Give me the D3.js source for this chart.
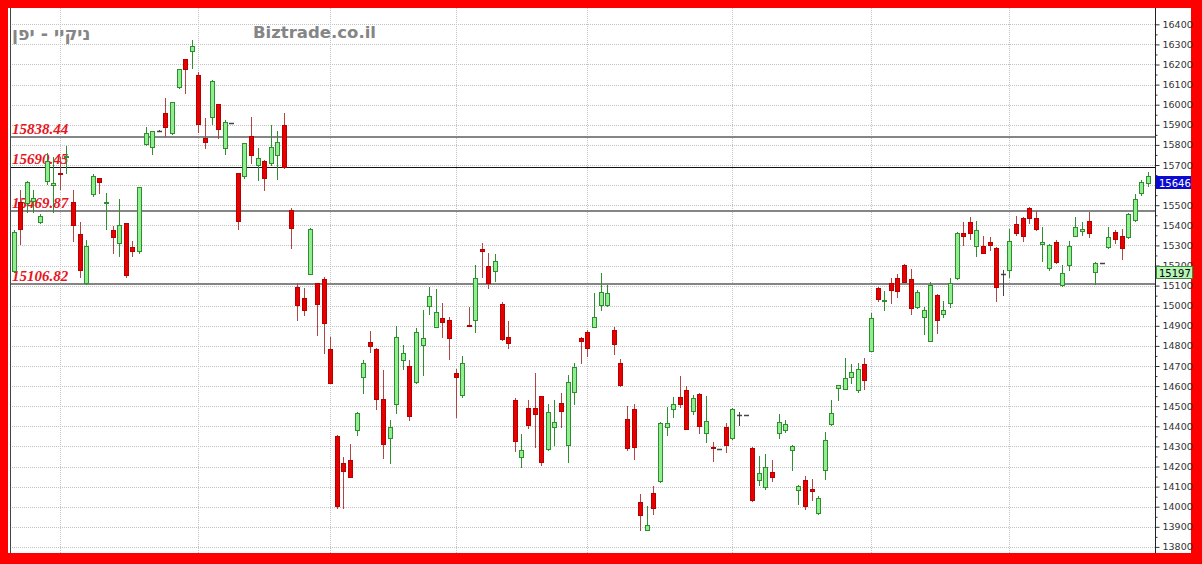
<!DOCTYPE html>
<html><head><meta charset="utf-8">
<script src="https://cdn.jsdelivr.net/npm/d3@7"></script>
<style>html,body{margin:0;padding:0;background:#fff;} svg{display:block;}</style>
</head><body>
<script>
// ---- data ----
const opens  = [15174,15517,15512,15520,15416,15621,15600,15662,15742,15517,15355,15111,15555,15633,15510,15378,15313,15409,15290,15273,
15803,15788,15870,15957,15857,16086,16227,16269,16148,15832,15937,16003,15783,15910,15658,15646,15844,15700,15721,15708,
15749,15899,15476,15094,15036,15160,15111,15131,14787,14352,14215,14231,14384,14643,14820,14787,14538,14344,14510,14729,
14699,14618,14803,14998,14895,14937,14928,14666,14555,14903,14930,15281,15197,15173,15008,14845,14530,14248,14491,14491,
14550,14289,14397,14516,14306,14571,14840,14870,14895,15003,15003,14878,14715,14434,14484,14024,13886,14068,14127,14397,
14488,14546,14583,14477,14560,14367,14296,14289,14397,14344,14455,14455,14294,14132,14098,14173,14367,14380,14281,14085,
14132,14090,13969,14185,14410,14593,14588,14643,14583,14708,14775,15086,15025,15111,15139,15202,15131,14994,14942,14825,
15053,14961,15011,15136,15360,15417,15296,15296,15318,15288,15160,15180,15404,15434,15484,15434,15305,15190,15318,15102,
15202,15348,15373,15422,15168,15213,15293,15368,15346,15340,15426,15559,15612];
const highs  = [15375,15575,15620,15575,15455,15759,15739,15739,15794,15578,15416,15326,15657,15636,15560,15398,15530,15412,15321,15592,
15890,15870,15872,16032,16015,16180,16229,16322,16164,15932,16122,16005,15924,15910,15660,15810,15940,15783,15725,15899,
15869,15957,15486,15111,15086,15386,15113,15144,14845,14355,14245,14311,14472,14729,14875,14790,14679,14430,14898,14803,
14729,14887,14981,15094,15081,15011,14942,14683,14749,14994,15202,15310,15263,15257,15019,14925,14543,14361,14533,14663,
14553,14513,14530,14566,14654,14713,14842,14878,15064,15164,15102,14895,14737,14500,14510,14065,14002,14102,14422,14496,
14546,14649,14600,14558,14566,14550,14322,14289,14417,14491,14471,14455,14297,14251,14264,14231,14460,14430,14306,14107,
14151,14140,14052,14372,14530,14605,14742,14712,14715,14742,14963,15094,15072,15136,15160,15205,15185,15077,14994,15119,
15058,15022,15136,15368,15417,15442,15422,15346,15343,15293,15180,15384,15446,15442,15489,15472,15390,15306,15326,15202,
15323,15439,15417,15467,15215,15213,15393,15376,15380,15462,15555,15625,15666];
const lows   = [15170,15306,15467,15465,15410,15605,15466,15580,15660,15324,15142,15106,15545,15560,15384,15261,15249,15144,15249,15263,
15800,15754,15868,15844,15852,16081,16056,16181,15865,15783,15902,15832,15753,15910,15384,15633,15708,15625,15575,15700,
15630,15683,15285,14930,14953,15158,14853,14765,14613,13996,13996,14146,14356,14566,14770,14488,14240,14215,14467,14683,
14430,14613,14654,14958,14892,14845,14737,14444,14546,14898,14870,15144,15086,15124,14828,14792,14277,14198,14394,14297,
14206,14281,14306,14397,14223,14513,14715,14749,14892,14978,14998,14762,14600,14281,14235,13883,13883,13966,14123,14356,
14444,14496,14389,14460,14367,14322,14228,14289,14272,14339,14405,14455,14029,14107,14090,14128,14344,14372,14185,14012,
13990,14035,13962,14140,14405,14530,14588,14613,14571,14588,14775,15024,14981,15014,15044,15117,14961,14991,14858,14825,
14865,14944,14994,15131,15301,15330,15247,15263,15277,15022,15053,15144,15351,15323,15412,15376,15223,15180,15210,15097,
15180,15348,15351,15343,15107,15213,15285,15313,15230,15335,15420,15550,15595];
const closes = [15366,15380,15617,15535,15446,15721,15612,15656,15746,15401,15180,15299,15647,15613,15516,15341,15401,15152,15273,15589,
15857,15869,15870,15887,16012,16176,16176,16292,15904,15813,16119,15879,15912,15910,15421,15808,15749,15736,15636,15791,
15816,15688,15388,15003,14978,15384,15006,14915,14613,14002,14178,14148,14464,14716,14799,14535,14311,14397,14842,14767,
14450,14867,14837,15049,14969,14920,14840,14646,14717,14900,15136,15271,15114,15222,14832,14812,14327,14281,14405,14460,
14223,14472,14422,14477,14621,14696,14824,14792,14944,15069,15064,14807,14604,14294,14297,13957,13911,13996,14417,14417,
14513,14510,14389,14541,14400,14427,14290,14289,14306,14485,14455,14455,14032,14168,14198,14148,14422,14410,14301,14102,
14002,14078,14045,14334,14464,14603,14638,14671,14683,14629,14937,15031,15030,15077,15074,15119,14989,15069,14978,15102,
14930,14978,15114,15360,15346,15363,15376,15263,15301,15091,15160,15323,15363,15346,15434,15380,15318,15301,15218,15164,
15296,15393,15380,15363,15213,15213,15340,15330,15285,15454,15529,15617,15646];
const days = d3.range(opens.length);               // trading-day categories
const priceTicks = d3.range(13800, 16401, 100);     // axis ticks
const hiddenTickLabels = [15600];                   // covered by the last-close box in the original
const minorTicks = d3.range(13850, 16400, 100);     // small axis ticks
const monthStartDays = [7, 28, 48, 67, 87, 109, 130, 151];
const levelValues = [15838.44, 15690.45, 15469.87, 15106.82];
const levelLabels = ["15838.44", "15690.45", "15469.87", "15106.82"];
const lastCloseValue = 15646;
const markerValue = 15197;
const titleText = "ניקיי - יפן";
const watermarkText = "Biztrade.co.il";

// ---- layout ----
const W = 1202, H = 564;
const plot = {left: 10, right: 1155, top: 8, bottom: 553};

const svg = d3.select("body").append("svg").attr("width", W).attr("height", H);
svg.append("rect").attr("width", W).attr("height", H).attr("fill", "#ff0000");
svg.append("rect").attr("x", 8).attr("y", 8).attr("width", 1183).attr("height", 545).attr("fill", "#ffffff");

const x = d3.scaleBand().domain(days).range([10.4, 1151.2]).padding(0);
const y = d3.scaleLinear().domain([13800, 16400]).range([546.9, 24.3]);
const cx = d => Math.round(x(d) + x.bandwidth() / 2);

// grid
const grid = svg.append("g");
grid.selectAll("line.h").data(priceTicks).join("line")
  .attr("x1", plot.left).attr("x2", plot.right)
  .attr("y1", d => Math.round(y(d)) + 0.5).attr("y2", d => Math.round(y(d)) + 0.5)
  .attr("stroke", "#c2c2c2").attr("stroke-dasharray", "1,1");
grid.selectAll("line.v").data(monthStartDays).join("line")
  .attr("x1", d => cx(d) + 0.5).attr("x2", d => cx(d) + 0.5)
  .attr("y1", plot.top).attr("y2", plot.bottom)
  .attr("stroke", "#c2c2c2").attr("stroke-dasharray", "1,1");

// texts
svg.append("text").attr("x", 12).attr("y", 40).text(titleText)
  .attr("font-family", "DejaVu Sans").attr("font-weight", "bold").attr("font-size", 17.5)
  .attr("fill", "#858585");
svg.append("text").attr("x", 253).attr("y", 38).text(watermarkText)
  .attr("font-family", "DejaVu Sans").attr("font-weight", "bold").attr("font-size", 16.5)
  .attr("textLength", 123).attr("lengthAdjust", "spacingAndGlyphs")
  .attr("fill", "#858585");

// level lines
const levelColors = ["#858585", "#111111", "#858585", "#858585"];
const levelWidths = [2, 1, 2, 2];
svg.append("g").selectAll("line").data(levelValues).join("line")
  .attr("x1", plot.left).attr("x2", plot.right)
  .attr("y1", (d, i) => Math.round(y(d)) + (levelWidths[i] === 1 ? 0.5 : 0))
  .attr("y2", (d, i) => Math.round(y(d)) + (levelWidths[i] === 1 ? 0.5 : 0))
  .attr("stroke", (d, i) => levelColors[i]).attr("stroke-width", (d, i) => levelWidths[i]);
svg.append("g").selectAll("text").data(levelValues).join("text")
  .attr("x", 12).attr("y", d => y(d) - 3).text((d, i) => levelLabels[i])
  .attr("font-family", "Liberation Serif").attr("font-style", "italic").attr("font-weight", "bold")
  .attr("font-size", 15).attr("fill", "#e8141c");

// plot frame line
svg.append("line").attr("x1", plot.left + 0.5).attr("x2", plot.left + 0.5).attr("y1", plot.top).attr("y2", plot.bottom)
  .attr("stroke", "#444");

// candles
const upFill = "#90ee90", upStroke = "#2f8f2f", dnFill = "#e60000", dnStroke = "#b80000", dnWick = "#b04545";
const candles = svg.append("g").selectAll("g").data(days).join("g");
candles.append("line")
  .attr("x1", d => cx(d) + 0.5).attr("x2", d => cx(d) + 0.5)
  .attr("y1", d => Math.round(y(highs[d]))).attr("y2", d => Math.round(y(lows[d])) + 1)
  .attr("stroke", d => closes[d] > opens[d] ? upStroke : (closes[d] < opens[d] ? dnWick : "#444"));
candles.filter(d => closes[d] !== opens[d]).append("rect")
  .attr("x", d => cx(d) - 2 + 0.5)
  .attr("y", d => Math.round(y(Math.max(opens[d], closes[d]))) + 0.5)
  .attr("width", 4)
  .attr("height", d => Math.max(1, Math.round(y(Math.min(opens[d], closes[d]))) - Math.round(y(Math.max(opens[d], closes[d])))))
  .attr("fill", d => closes[d] > opens[d] ? upFill : dnFill)
  .attr("stroke", d => closes[d] > opens[d] ? upStroke : dnStroke);
candles.filter(d => closes[d] === opens[d]).append("line")
  .attr("x1", d => cx(d) - 2).attr("x2", d => cx(d) + 3)
  .attr("y1", d => Math.round(y(opens[d])) + 0.5).attr("y2", d => Math.round(y(opens[d])) + 0.5)
  .attr("stroke", "#444").attr("stroke-width", 1.5);

// axis
const axisG = svg.append("g").attr("transform", `translate(${plot.right + 0.5},0)`);
axisG.call(d3.axisRight(y).tickValues(priceTicks).tickSize(4).tickPadding(3)
  .tickFormat(d => hiddenTickLabels.includes(d) ? "" : d3.format("d")(d)));
axisG.select(".domain").remove();
axisG.selectAll("text").attr("font-family", "DejaVu Sans").attr("font-size", 9.5).attr("fill", "#333");
axisG.selectAll("line").attr("stroke", "#333");
const minorG = svg.append("g").attr("transform", `translate(${plot.right + 0.5},0)`);
minorG.call(d3.axisRight(y).tickValues(minorTicks).tickSize(2).tickFormat(""));
minorG.select(".domain").remove();
minorG.selectAll("line").attr("stroke", "#333");
svg.append("line").attr("x1", plot.right + 0.5).attr("x2", plot.right + 0.5).attr("y1", plot.top).attr("y2", plot.bottom)
  .attr("stroke", "#222");

// value markers
const markers = [
  {v: lastCloseValue, fill: "#0a0ad2", stroke: "#0a0ad2", text: "#ffffff", w: 34},
  {v: markerValue, fill: "#b9f5b9", stroke: "#3a8f3a", text: "#000000", w: 36}
];
const mk = svg.append("g").selectAll("g").data(markers).join("g");
mk.append("rect").attr("x", plot.right + 1.5).attr("y", d => Math.round(y(d.v)) + 0.5)
  .attr("width", d => d.w).attr("height", 12)
  .attr("fill", d => d.fill).attr("stroke", d => d.stroke);
mk.append("text").attr("x", plot.right + 4).attr("y", d => Math.round(y(d.v)) + 10.5)
  .text(d => d3.format("d")(d.v))
  .attr("font-family", "DejaVu Sans").attr("font-size", 10).attr("fill", d => d.text);
</script>
</body></html>
